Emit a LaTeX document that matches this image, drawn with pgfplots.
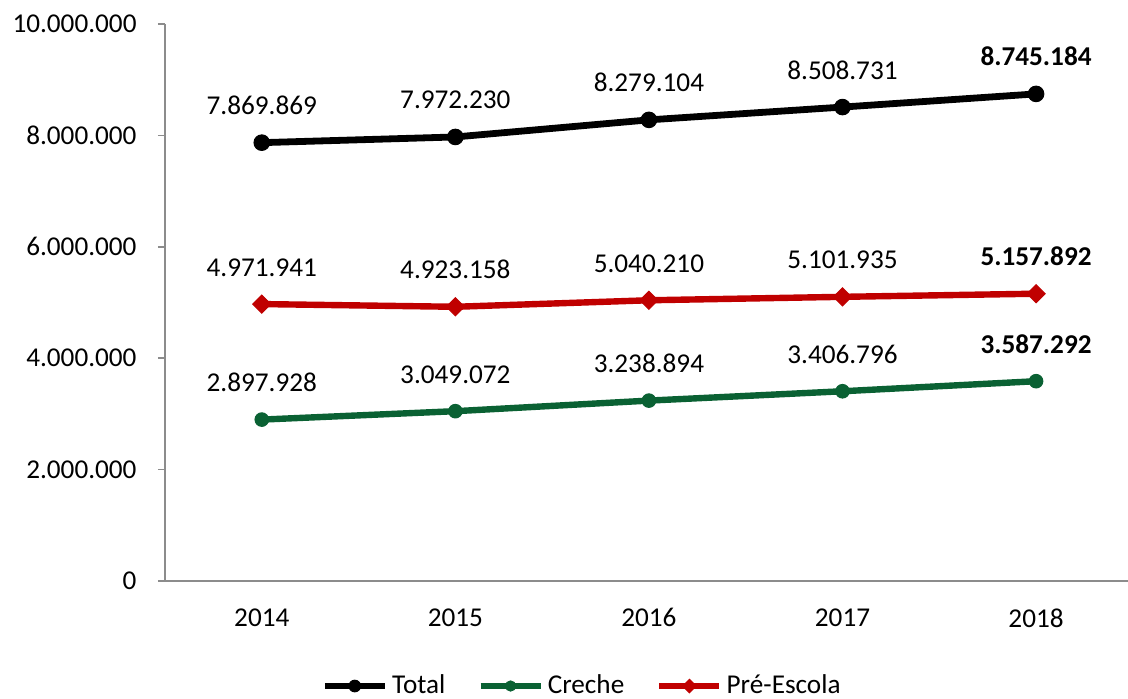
\documentclass[border=0pt]{standalone}
\usepackage{pgfplots}
\pgfplotsset{compat=1.18}
\usepackage{fontspec}
\setmainfont{Carlito}
\definecolor{cgreen}{RGB}{10,97,51}
\definecolor{cred}{RGB}{192,0,0}
\definecolor{cgrey}{RGB}{140,140,140}
\begin{document}
\fontsize{13.6}{16}\selectfont
\begin{tikzpicture}
\begin{axis}[
  scale only axis,
  width=481.5pt, height=278.5pt,
  xmin=-0.5, xmax=4.475,
  ymin=0, ymax=10000000,
  axis x line*=bottom, axis y line*=left,
  axis line style={cgrey, line width=0.8pt},
  xtick={0,1,2,3,4},
  xticklabels={2014,2015,2016,2017,2018},
  x tick style={draw=none},
  ytick={0,2000000,4000000,6000000,8000000,10000000},
  yticklabels={0,2.000.000,4.000.000,6.000.000,8.000.000,10.000.000},
  y tick style={cgrey, line width=0.8pt},
  tick align=outside,
  major tick length=3.5pt,
  scaled y ticks=false,
  yticklabel style={font=\fontsize{13.6}{16}\selectfont, xshift=-6pt},
  xticklabel style={font=\fontsize{13.6}{16}\selectfont, yshift=-5.5pt},
  clip=false,
  nodes near coords,
  point meta=explicit symbolic,
  nodes near coords style={font=\fontsize{13.6}{16}\selectfont, anchor=base, yshift=14pt, text=black},
  legend columns=3,
  legend style={at={(0.434,-0.1885)}, anchor=center, draw=none, fill=none,
    font=\fontsize{13.6}{16}\selectfont, inner sep=0pt,
    /tikz/every even column/.append style={column sep=14pt}},
  legend cell align=left,
  legend image code/.code={\draw (0pt,0pt) -- (30pt,0pt);
    \draw[/tikz/every mark/.append style={scale=0.75}] plot coordinates {(15pt,0pt)};},
]
\addplot[black, line width=3.4pt, mark=*, mark size=3.9pt, mark options={solid, line width=0.5pt}] coordinates {
  (0,7869869) [7.869.869]
  (1,7972230) [7.972.230]
  (2,8279104) [8.279.104]
  (3,8508731) [8.508.731]
  (4,8745184) [\textbf{8.745.184}]
};
\addlegendentry{Total}
\addplot[cgreen, line width=3.2pt, mark=*, mark size=3.4pt, mark options={solid, line width=0.5pt}] coordinates {
  (0,2897928) [2.897.928]
  (1,3049072) [3.049.072]
  (2,3238894) [3.238.894]
  (3,3406796) [3.406.796]
  (4,3587292) [\textbf{3.587.292}]
};
\addlegendentry{Creche}
\addplot[cred, line width=3.2pt, mark=square*, mark size=3.2pt, mark options={solid, rotate=45, line width=0.5pt}] coordinates {
  (0,4971941) [4.971.941]
  (1,4923158) [4.923.158]
  (2,5040210) [5.040.210]
  (3,5101935) [5.101.935]
  (4,5157892) [\textbf{5.157.892}]
};
\addlegendentry{Pré-Escola}
\coordinate (bbsw) at (rel axis cs:-0.17134,-0.21005);
\coordinate (bbne) at (rel axis cs:1,1.04309);
\end{axis}
\pgfresetboundingbox
\useasboundingbox (bbsw) rectangle (bbne);
\end{tikzpicture}
\end{document}
